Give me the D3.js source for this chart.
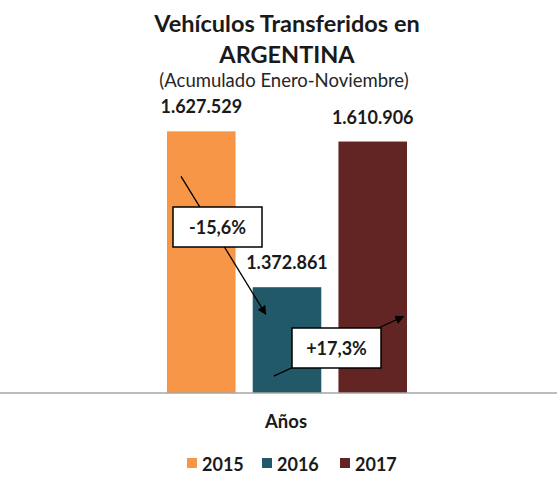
<!DOCTYPE html>
<meta charset="utf-8">
<style>
  html, body { margin: 0; padding: 0; background: #fff; overflow: hidden; }
  text { font-family: Lato, "Open Sans", sans-serif; fill: #1a1a1a; }
  .title { font-size: 23.5px; font-weight: bold; }
  .subtitle { font-size: 18.5px; fill: #262626; }
  .value { font-size: 18px; font-weight: bold; }
  .pct { font-size: 18px; font-weight: bold; }
  .axis-title { font-size: 18.5px; font-weight: bold; }
  .legend text { font-size: 18px; font-weight: bold; }
  .baseline { stroke: #a6a6a6; stroke-width: 1.5px; }
  .pct-box { fill: #fff; stroke: #000; stroke-width: 1.5px; }
  .arrow { stroke: #000; stroke-width: 1.3px; fill: none; }
</style>
<body>
<svg></svg>
<script src="https://d3js.org/d3.v7.min.js"></script>
<script>

  var years = ["2015", "2016", "2017"];
  var values = [1627529, 1372861, 1610906];
  var colors = ["#f79646", "#215968", "#632523"];
  var yDomain = [1200000, 1700000];

  var width = 557, height = 478;

  var svg = d3.select("svg").attr("width", width).attr("height", height);

  var x = d3.scaleBand().domain(years).range([167, 407]).paddingInner(0.2);
  var y = d3.scaleLinear().domain(yDomain).range([393, 87]);
  var color = d3.scaleOrdinal().domain(years).range(colors);

  var fmtNum = function(v) { return d3.format(",")(v).replace(/,/g, "."); };
  var fmtPct = function(v) {
    return (v > 0 ? "+" : "") + d3.format(".1f")(v).replace(".", ",").replace("−", "-") + "%";
  };

  var data = years.map(function(yr, i) { return {year: yr, value: values[i]}; });

  // titles
  svg.append("text").attr("class", "title").attr("x", 287).attr("y", 32)
    .attr("text-anchor", "middle").text("Vehículos Transferidos en");
  svg.append("text").attr("class", "title").attr("x", 287).attr("y", 63)
    .attr("text-anchor", "middle").text("ARGENTINA");
  svg.append("text").attr("class", "subtitle").attr("x", 284).attr("y", 87)
    .attr("text-anchor", "middle").text("(Acumulado Enero-Noviembre)");

  // bars
  svg.append("g").selectAll("rect")
    .data(data)
    .enter().append("rect")
      .attr("x", function(d) { return x(d.year); })
      .attr("y", function(d) { return y(d.value); })
      .attr("width", x.bandwidth())
      .attr("height", function(d) { return y(yDomain[0]) - y(d.value); })
      .style("fill", function(d) { return color(d.year); });

  // base line
  svg.append("line")
    .attr("class", "baseline")
    .attr("x1", 0).attr("x2", width)
    .attr("y1", y(yDomain[0])).attr("y2", y(yDomain[0]));

  // value labels
  svg.append("g").selectAll("text")
    .data(data)
    .enter().append("text")
      .attr("class", "value")
      .attr("text-anchor", "middle")
      .attr("x", function(d) { return x(d.year) + x.bandwidth() / 2; })
      .attr("y", function(d) { return y(d.value) - 18; })
      .text(function(d) { return fmtNum(d.value); });

  // arrows with % change
  svg.append("defs").append("marker")
    .attr("id", "head")
    .attr("viewBox", "0 0 10 10")
    .attr("refX", 9).attr("refY", 5)
    .attr("markerWidth", 9).attr("markerHeight", 9)
    .attr("markerUnits", "userSpaceOnUse")
    .attr("orient", "auto")
    .append("path").attr("d", "M0,0L10,5L0,10z").style("fill", "#000");

  var changes = [
    {from: 0, to: 1, x1: 14, y1: 45, x2: 13, y2: 27, box: [173, 207]},
    {from: 1, to: 2, x1: 21, y1: 89, x2: 65, y2: 175, box: [292, 328]}
  ];

  changes.forEach(function(c) {
    var a = data[c.from], b = data[c.to];
    svg.append("line")
      .attr("class", "arrow")
      .attr("x1", x(a.year) + c.x1).attr("y1", y(a.value) + c.y1)
      .attr("x2", x(b.year) + c.x2).attr("y2", y(b.value) + c.y2)
      .attr("marker-end", "url(#head)");
    svg.append("rect")
      .attr("class", "pct-box")
      .attr("x", c.box[0]).attr("y", c.box[1])
      .attr("width", 89).attr("height", 40);
    svg.append("text")
      .attr("class", "pct")
      .attr("text-anchor", "middle")
      .attr("x", c.box[0] + 44.5).attr("y", c.box[1] + 27)
      .text(fmtPct((b.value / a.value - 1) * 100));
  });

  // axis title
  svg.append("text").attr("class", "axis-title").attr("x", 286).attr("y", 428)
    .attr("text-anchor", "middle").text("Años");

  // legend
  var legendX = [187, 262, 340];
  var legend = svg.append("g").attr("class", "legend")
    .selectAll("g").data(years).enter().append("g")
      .attr("transform", function(d, i) { return "translate(" + legendX[i] + ",458)"; });
  legend.append("rect").attr("width", 10).attr("height", 10)
    .style("fill", function(d) { return color(d); });
  legend.append("text").attr("x", 15).attr("y", 13).text(function(d) { return d; });

</script>
</body>
